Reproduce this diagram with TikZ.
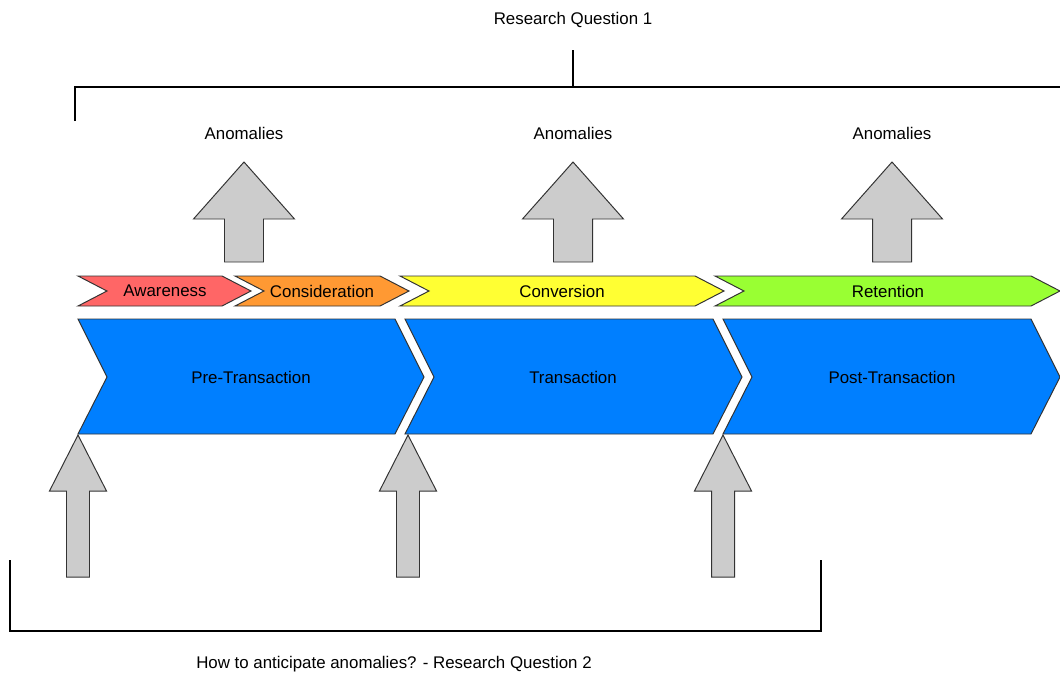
\documentclass[tikz,border=0pt]{standalone}
\usepackage{fontspec}
\setmainfont{Liberation Sans}
\usepackage{xcolor}
\usepackage{tikz}
\definecolor{awarered}{HTML}{FF6666}
\definecolor{considorange}{HTML}{FF9933}
\definecolor{convyellow}{HTML}{FFFF33}
\definecolor{retgreen}{HTML}{99FF33}
\definecolor{phaseblue}{HTML}{007FFF}
\definecolor{arrowgray}{HTML}{CCCCCC}
\definecolor{edgegray}{HTML}{333333}

\begin{document}
\begin{tikzpicture}[scale=0.25,
    every node/.style={inner sep=0pt, font=\fontsize{12}{14}\selectfont},
    shapeline/.style={draw=edgegray, line width=0.7pt, line join=miter},
    bracket/.style={black, line width=1.4pt},
    blockarrow/.style={shapeline, fill=arrowgray}]
            \useasboundingbox (0,0) rectangle (106,-67.3);
            % research question 1 bracket
            \node (rq1) at (57.3,-2.0) {Research Question 1};
            \coordinate (rqstem) at (57.3,-5.0);
            \coordinate (rqjoin) at (57.3,-8.7);
            \coordinate (rqleft) at (7.5,-8.7);
            \coordinate (rqleftend) at (7.5,-12.1);
            \coordinate (rqright) at (106.5,-8.7);
            \draw [bracket] (rqstem) -- (rqjoin);
            \draw [bracket] (rqleftend) -- (rqleft) -- (rqright);
            % anomalies
            \node (anom1) at (24.4,-13.3) {Anomalies};
            \node (anom2) at (57.3,-13.3) {Anomalies};
            \node (anom3) at (89.2,-13.3) {Anomalies};
            \draw [blockarrow] (24.4,-16.2) -- ++(5.05,-5.7) -- ++(-3.1,0) -- ++(0,-4.3) -- ++(-3.9,0) -- ++(0,4.3) -- ++(-3.1,0) -- cycle;
            \draw [blockarrow] (57.3,-16.2) -- ++(5.05,-5.7) -- ++(-3.1,0) -- ++(0,-4.3) -- ++(-3.9,0) -- ++(0,4.3) -- ++(-3.1,0) -- cycle;
            \draw [blockarrow] (89.2,-16.2) -- ++(5.05,-5.7) -- ++(-3.1,0) -- ++(0,-4.3) -- ++(-3.9,0) -- ++(0,4.3) -- ++(-3.1,0) -- cycle;
            % funnel stages
            \draw [shapeline, fill=awarered] (7.8,-27.6) -- (22.2,-27.6) -- (25.1,-29.1) -- (22.2,-30.6) -- (7.8,-30.6) -- (10.7,-29.1) -- cycle;
            \node (aware) at (16.5,-29.1) {Awareness};
            \draw [shapeline, fill=considorange] (23.5,-27.6) -- (38.0,-27.6) -- (40.9,-29.1) -- (38.0,-30.6) -- (23.5,-30.6) -- (26.4,-29.1) -- cycle;
            \node (consid) at (32.2,-29.1) {Consideration};
            \draw [shapeline, fill=convyellow] (40.0,-27.6) -- (69.5,-27.6) -- (72.4,-29.1) -- (69.5,-30.6) -- (40.0,-30.6) -- (42.9,-29.1) -- cycle;
            \node (conv) at (56.2,-29.1) {Conversion};
            \draw [shapeline, fill=retgreen] (71.5,-27.6) -- (103.1,-27.6) -- (106.0,-29.1) -- (103.1,-30.6) -- (71.5,-30.6) -- (74.4,-29.1) -- cycle;
            \node (retent) at (88.8,-29.1) {Retention};
            % transaction phases
            \draw [shapeline, fill=phaseblue] (7.8,-31.9) -- (39.5,-31.9) -- (42.4,-37.7) -- (39.5,-43.4) -- (7.8,-43.4) -- (10.7,-37.7) -- cycle;
            \node (pretrans) at (25.1,-37.7) {Pre-Transaction};
            \draw [shapeline, fill=phaseblue] (40.5,-31.9) -- (71.3,-31.9) -- (74.2,-37.7) -- (71.3,-43.4) -- (40.5,-43.4) -- (43.4,-37.7) -- cycle;
            \node (trans) at (57.3,-37.7) {Transaction};
            \draw [shapeline, fill=phaseblue] (72.3,-31.9) -- (103.1,-31.9) -- (106.0,-37.7) -- (103.1,-43.4) -- (72.3,-43.4) -- (75.2,-37.7) -- cycle;
            \node (posttrans) at (89.2,-37.7) {Post-Transaction};
            % anticipation arrows
            \draw [blockarrow] (7.8,-43.5) -- ++(2.85,-5.6) -- ++(-1.7,0) -- ++(0,-8.6) -- ++(-2.3,0) -- ++(0,8.6) -- ++(-1.7,0) -- cycle;
            \draw [blockarrow] (40.8,-43.5) -- ++(2.85,-5.6) -- ++(-1.7,0) -- ++(0,-8.6) -- ++(-2.3,0) -- ++(0,8.6) -- ++(-1.7,0) -- cycle;
            \draw [blockarrow] (72.3,-43.5) -- ++(2.85,-5.6) -- ++(-1.7,0) -- ++(0,-8.6) -- ++(-2.3,0) -- ++(0,8.6) -- ++(-1.7,0) -- cycle;
            % research question 2 bracket
            \coordinate (rqtwoleft) at (1.0,-56.0);
            \coordinate (rqtwolow) at (1.0,-63.1);
            \coordinate (rqtwolowr) at (82.1,-63.1);
            \coordinate (rqtworight) at (82.1,-56.0);
            \draw [bracket] (rqtwoleft) -- (rqtwolow) -- (rqtwolowr) -- (rqtworight);
            \node (rq2) at (39.4,-66.4) {How to anticipate anomalies? - Research Question 2};
        \end{tikzpicture}
\end{document}
